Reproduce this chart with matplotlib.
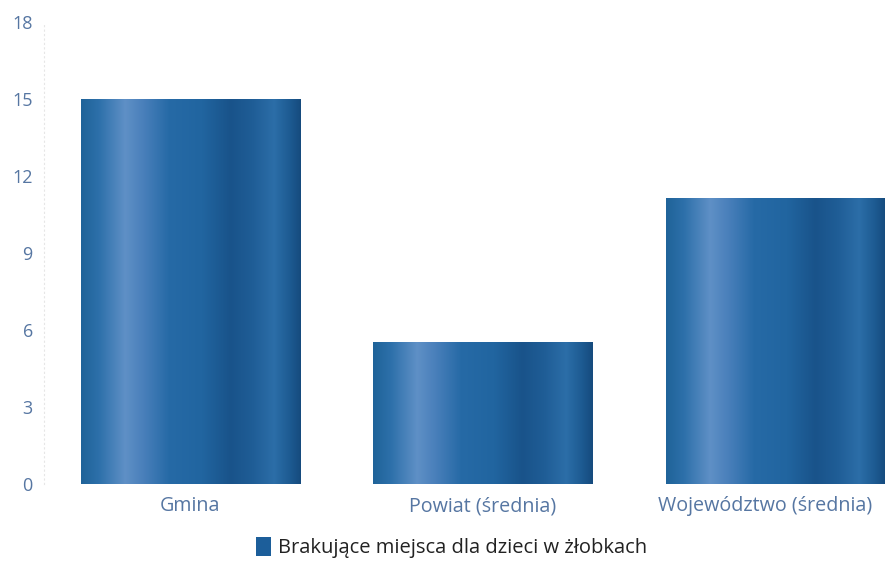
import numpy as np
import matplotlib
matplotlib.use('Agg')
import matplotlib.pyplot as plt
import matplotlib.transforms as mtransforms
from matplotlib.colors import LinearSegmentedColormap
from matplotlib.patches import Rectangle

plt.rcParams['font.family'] = ['Open Sans', 'DejaVu Sans']

categories = ['Gmina', 'Powiat (średnia)', 'Województwo (średnia)']
values = [15.0, 5.55, 11.15]
y_ticks = [0, 3, 6, 9, 12, 15, 18]
legend_label = 'Brakujące miejsca dla dzieci w żłobkach'

# horizontal shading of each bar
shade = LinearSegmentedColormap.from_list('shade', [
    (0.00, '#1f6399'), (0.08, '#2d70aa'), (0.20, '#5f90c6'), (0.28, '#4a80bb'),
    (0.40, '#266aa6'), (0.55, '#2165a0'), (0.68, '#19538a'), (0.78, '#1f5d96'),
    (0.88, '#2c6ea8'), (0.95, '#1d5b92'), (1.00, '#164b7e')])
label_col = '#5676a2'

fig = plt.figure(figsize=(8.85, 5.62), dpi=100)
ax = fig.add_axes([0.0497, 0.1388, 0.9503, 0.8221])

x = np.arange(len(categories))
width = 0.75
bars = ax.bar(x, values, width=width, color='none', edgecolor='none')
grad = np.linspace(0, 1, 256).reshape(1, -1)
for b in bars:
    im = ax.imshow(grad, cmap=shade, aspect='auto',
                   extent=[b.get_x(), b.get_x() + b.get_width(), 0, b.get_height()],
                   zorder=2)
    im.set_clip_path(b)

ax.set_xlim(-0.5, 2.375)
ax.set_ylim(0, 18)
ax.set_yticks(y_ticks)
ax.set_yticklabels([str(t) for t in y_ticks], fontsize=13, color=label_col)
ax.set_xticks(x)
ax.set_xticklabels(categories, fontsize=14.2, color=label_col)
ax.tick_params(axis='y', length=0, pad=8)
ax.tick_params(axis='x', length=0, pad=9)
# last label sits a little left of its bar (it runs to the picture edge)
last = ax.get_xticklabels()[-1]
last.set_transform(last.get_transform() +
                   mtransforms.ScaledTranslation(-0.1, 0, fig.dpi_scale_trans))
for s in ['top', 'right', 'bottom']:
    ax.spines[s].set_visible(False)
ax.spines['left'].set_color('#e6e6e6')
ax.spines['left'].set_linestyle((0, (1, 3)))

handle = Rectangle((0, 0), 1, 1, facecolor='#1c5e9a', edgecolor='none')
leg = fig.legend([handle], [legend_label], loc='center', bbox_to_anchor=(0.51, 0.025),
                 frameon=False, fontsize=14.5, handlelength=0.75, handleheight=1.0,
                 handletextpad=0.35)
for t in leg.get_texts():
    t.set_color('#222222')

fig.savefig('out.png', dpi=100)
